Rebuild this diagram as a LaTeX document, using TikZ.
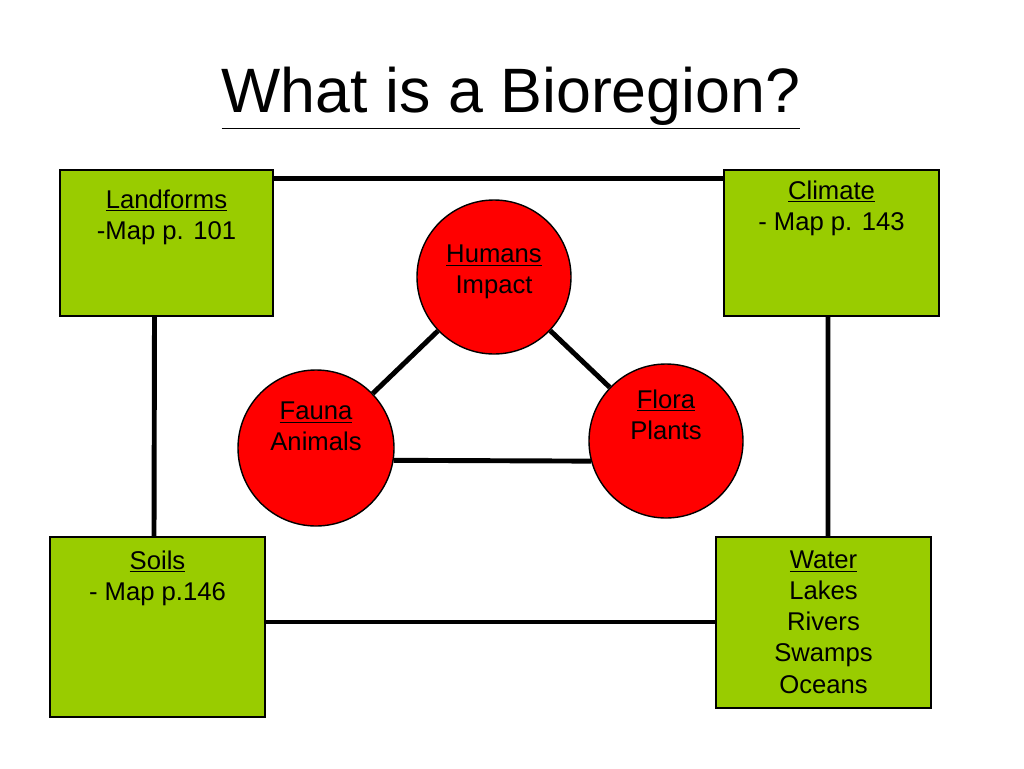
\documentclass[tikz,border=0pt]{standalone}
\usepackage{fontspec}
\setmainfont{Liberation Sans}
\usetikzlibrary{positioning}
\newcommand{\boxfont}{\fontsize{14.6}{17.8}\selectfont}
\definecolor{leaf}{RGB}{153,204,0}
\begin{document}
\begin{tikzpicture}[x=0.02cm, y=-0.02cm,
        region/.style={rectangle, draw=black, fill=leaf, line width=0.8pt, inner sep=0pt},
        factor/.style={circle, draw=black, fill=red, line width=0.8pt, inner sep=0pt, minimum size=154*0.02cm},
        link/.style={line width=2.8pt, black},
        boxtext/.style={anchor=north, align=center, font=\boxfont}
    ]
    \useasboundingbox (0,0) rectangle (1024,768);

    % Title
    \node[font=\fontsize{35.7}{43}\selectfont] (title) at (511,98) {\underline{What is a Bioregion?}};

    % Boxes
    \node[region, minimum width=213*0.02cm, minimum height=146*0.02cm] (landforms) at (166.5,243) {};
    \node[boxtext] at ([yshift=-14*0.02cm]landforms.north) {\underline{Landforms}\\-Map p. 101};
    \node[region, minimum width=215*0.02cm, minimum height=146*0.02cm] (climate) at (831.5,243) {};
    \node[boxtext] at ([yshift=-5*0.02cm]climate.north) {\underline{Climate}\\- Map p. 143};
    \node[region, minimum width=215*0.02cm, minimum height=180*0.02cm] (soils) at (157.5,627) {};
    \node[boxtext] at ([yshift=-8*0.02cm]soils.north) {\underline{Soils}\\- Map p.146};
    \node[region, minimum width=215*0.02cm, minimum height=171*0.02cm] (water) at (823.5,622.5) {};
    \node[boxtext] at ([yshift=-8*0.02cm]water.north) {\underline{Water}\\Lakes\\Rivers\\Swamps\\Oceans};

    % Circles
    \node[factor] (humans) at (494,277) {};
    \node[boxtext] at ([yshift=-39*0.02cm]humans.north) {\underline{Humans}\\Impact};
    \node[factor, minimum size=156*0.02cm] (fauna) at (316,448) {};
    \node[boxtext] at ([yshift=-26*0.02cm]fauna.north) {\underline{Fauna}\\Animals};
    \node[factor] (flora) at (666,441) {};
    \node[boxtext] at ([yshift=-20*0.02cm]flora.north) {\underline{Flora}\\Plants};

    % Outer links
    \draw[link] ([yshift=-9*0.02cm]landforms.north east) -- ([yshift=-9*0.02cm]landforms.north east -| climate.west);
    \draw[link] ([xshift=-12*0.02cm]landforms.south) -- ([xshift=-3.5*0.02cm]soils.north);
    \draw[link] ([xshift=-3.5*0.02cm]climate.south) -- ([xshift=4.5*0.02cm]water.north);
    \draw[link] ([yshift=5*0.02cm]soils.east) -- ([yshift=5*0.02cm]soils.east -| water.west);

    % Triangle
    \draw[link] (humans) -- (fauna);
    \draw[link] (humans) -- (flora);
    \draw[link] (fauna.-9.6) -- (flora.195);
\end{tikzpicture}
\end{document}
